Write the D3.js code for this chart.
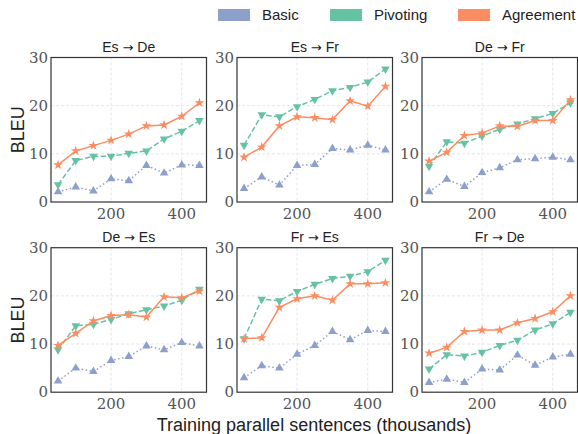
<html>
<head>
    <meta charSet="utf-8">
    <title>BLEU vs training size</title>
    <script src="https://d3js.org/d3.v7.min.js"></script>
    <style>
        body { margin: 0; background: #fff; }
    </style>
</head>
<body>
<svg id="chart"></svg>
<script>
    // x positions (thousands of sentences)
    const sizes = [50, 100, 150, 200, 250, 300, 350, 400, 450];
    const seriesNames = ["Basic", "Pivoting", "Agreement"];
    const panelFrom = ["Es", "Es", "De", "De", "Fr", "Fr"];
    const panelTo = ["De", "Fr", "Fr", "Es", "Es", "De"];

    const basic = [
        [2.1, 3.1, 2.3, 4.8, 4.4, 7.6, 6.0, 7.7, 7.6],
        [2.8, 5.2, 3.5, 7.6, 7.8, 11.1, 10.8, 11.8, 10.8],
        [2.1, 4.7, 3.2, 6.1, 7.1, 8.75, 9.0, 9.3, 8.75],
        [2.3, 5.0, 4.3, 6.6, 7.4, 9.6, 8.8, 10.3, 9.6],
        [3.0, 5.5, 5.0, 7.9, 9.7, 12.6, 10.9, 12.8, 12.6],
        [2.0, 2.7, 2.0, 4.8, 4.6, 7.7, 5.6, 7.3, 7.9]
    ];
    const pivoting = [
        [3.6, 8.6, 9.5, 9.5, 10.1, 10.6, 13.1, 14.7, 16.9],
        [11.8, 18.1, 17.7, 19.8, 21.3, 23.1, 23.8, 24.9, 27.6],
        [7.4, 12.5, 12.2, 13.7, 15.1, 16.2, 17.3, 18.4, 20.6],
        [8.8, 13.8, 14.1, 15.1, 16.3, 17.1, 17.9, 19.1, 21.4],
        [11.1, 19.3, 19.0, 20.9, 22.4, 23.6, 24.1, 25.0, 27.4],
        [4.8, 7.8, 7.5, 8.3, 9.7, 10.8, 12.9, 14.2, 16.6]
    ];
    const agreement = [
        [7.7, 10.6, 11.7, 12.8, 14.1, 15.8, 16.0, 17.8, 20.6],
        [9.3, 11.4, 15.8, 17.7, 17.5, 17.1, 21.0, 19.9, 24.0],
        [8.5, 10.3, 13.8, 14.3, 15.8, 15.7, 16.9, 16.9, 21.2],
        [9.7, 12.2, 14.8, 15.9, 16.1, 15.6, 19.8, 19.6, 21.0],
        [11.1, 11.3, 17.6, 19.4, 20.0, 19.1, 22.5, 22.5, 22.7],
        [8.1, 9.3, 12.6, 12.9, 12.9, 14.4, 15.3, 16.7, 20.0]
    ];
    const xTicks = [200, 400];
    const yTicks = [0, 10, 20, 30];

    const colors = ["#8da0cb", "#66c2a5", "#fc8d62"];
    const dashes = ["1.5,2.5", "5.5,2.4", null];
    const symbols = [d3.symbolTriangle, d3.symbolTriangle, d3.symbolStar];
    const rotations = [0, 180, 0];
    const seriesData = [basic, pivoting, agreement];

    const sans = "'Liberation Sans', Arial, sans-serif";
    const serif = "'DejaVu Serif', serif";

    const width = 578, height = 434;
    const svg = d3.select("#chart").attr("width", width).attr("height", height);

    const panelW = 155.5;
    const lefts = [51, 237, 422];
    const tops = [57.5, 247.7];
    const panelH = 144.5;

    const x = d3.scaleLinear().domain([30, 470]).range([0, panelW]);
    const y = d3.scaleLinear().domain([0, 30]).range([panelH, 0]);

    panelFrom.forEach((from, i) => {
        const row = Math.floor(i / 3), col = i % 3;
        const g = svg.append("g").attr("transform", `translate(${lefts[col]},${tops[row]})`);

        // grid
        g.selectAll(".gx").data(xTicks).join("line")
            .attr("x1", d => x(d)).attr("x2", d => x(d))
            .attr("y1", 0).attr("y2", panelH)
            .attr("stroke", "#e0e0e0").attr("stroke-dasharray", "3,2").attr("stroke-width", 0.8);
        g.selectAll(".gy").data(yTicks.slice(1, -1)).join("line")
            .attr("y1", d => y(d)).attr("y2", d => y(d))
            .attr("x1", 0).attr("x2", panelW)
            .attr("stroke", "#e0e0e0").attr("stroke-dasharray", "3,2").attr("stroke-width", 0.8);

        // series
        seriesData.forEach((arr, s) => {
            const vals = arr[i];
            const pts = sizes.map((d, k) => [x(d), y(vals[k])]);
            g.append("path")
                .attr("d", d3.line()(pts))
                .attr("fill", "none")
                .attr("stroke", colors[s])
                .attr("stroke-width", 1.5)
                .attr("stroke-dasharray", dashes[s]);
            g.selectAll(null).data(pts).join("path")
                .attr("d", d3.symbol().type(symbols[s]).size(s === 2 ? 30 : 32))
                .attr("transform", d => `translate(${d[0]},${d[1]}) rotate(${rotations[s]})`)
                .attr("fill", colors[s]);
        });

        // frame
        g.append("rect").attr("width", panelW).attr("height", panelH)
            .attr("fill", "none").attr("stroke", "#333").attr("stroke-width", 1.2);

        // tick labels
        g.selectAll(".yl").data(yTicks).join("text")
            .attr("font-family", serif).attr("font-size", 15).attr("fill", "#555")
            .attr("x", -3).attr("y", d => y(d)).attr("dy", "0.35em")
            .attr("text-anchor", "end").text(d => d);
        g.selectAll(".xl").data(xTicks).join("text")
            .attr("font-family", serif).attr("font-size", 15).attr("fill", "#555")
            .attr("x", d => x(d)).attr("y", panelH + 17)
            .attr("text-anchor", "middle").text(d => d);

        const t = g.append("text").attr("x", panelW / 2).attr("y", -6)
            .attr("text-anchor", "middle").attr("font-size", 14).attr("fill", "#222")
            .attr("font-family", sans);
        t.append("tspan").text(from + " ");
        t.append("tspan").attr("font-family", "'DejaVu Sans', sans-serif").attr("font-size", 13).text("\u2192");
        t.append("tspan").text(" " + panelTo[i]);

        if (col === 0) {
            g.append("text")
                .attr("transform", `translate(-27,${panelH / 2}) rotate(-90)`)
                .attr("text-anchor", "middle").attr("font-size", 18).attr("fill", "#222")
                .attr("font-family", sans)
                .text("BLEU");
        }
    });

    svg.append("text").attr("x", 314).attr("y", 431)
        .attr("text-anchor", "middle").attr("font-size", 18).attr("fill", "#222")
        .attr("font-family", sans)
        .text("Training parallel sentences (thousands)");

    // legend
    const legendX = [218, 330, 458];
    seriesNames.forEach((name, s) => {
        svg.append("rect").attr("x", legendX[s]).attr("y", 9).attr("width", 32).attr("height", 12)
            .attr("fill", colors[s]);
        svg.append("text").attr("x", legendX[s] + 44).attr("y", 20)
            .attr("font-size", 15).attr("fill", "#222").attr("font-family", sans).text(name);
    });
</script>
</body>
</html>
